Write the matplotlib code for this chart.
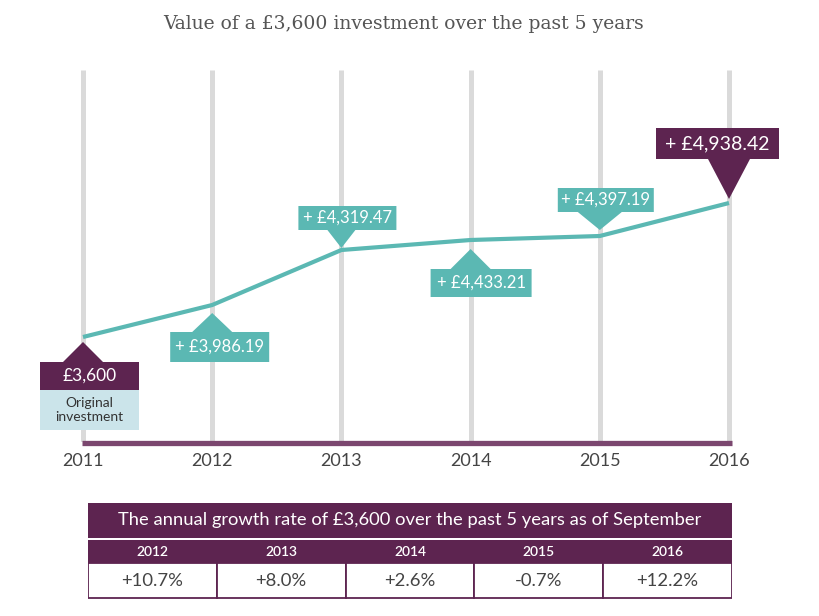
"""Value of a £3,600 investment over the past 5 years."""

import matplotlib
matplotlib.use("Agg")
import matplotlib.pyplot as plt
import matplotlib.transforms as mtransforms
from matplotlib.patches import Polygon, Rectangle

plt.rcParams["font.family"] = ["Lato", "DejaVu Sans"]

# --- data -------------------------------------------------------------
years = [2011, 2012, 2013, 2014, 2015, 2016]
# height of the drawn line (in £)
line_values = [3600, 3920, 4470, 4570, 4610, 4940]
labels = ["£3,600", "+ £3,986.19", "+ £4,319.47", "+ £4,433.21",
          "+ £4,397.19", "+ £4,938.42"]
table_years = ["2012", "2013", "2014", "2015", "2016"]
growth = ["+10.7%", "+8.0%", "+2.6%", "-0.7%", "+12.2%"]

title = "Value of a £3,600 investment over the past 5 years"
table_title = "The annual growth rate of £3,600 over the past 5 years as of September"

# --- colours ----------------------------------------------------------
TEAL = "#5bb8b3"
PURPLE = "#5d2450"
BASE = "#7b476f"
BAR = "#dadada"
LIGHT = "#cbe4ea"
TEXT = "#444444"

W, H = 820, 616
fig = plt.figure(figsize=(W / 100, H / 100), dpi=100)
fig.patch.set_facecolor("white")


def px_axes(x0, y0, x1, y1):
    """axes from image pixel box (y downward)."""
    return fig.add_axes([x0 / W, 1 - y1 / H, (x1 - x0) / W, (y1 - y0) / H])


fig.text(404 / W, 1 - 24 / H, title, ha="center", va="center",
         family="DejaVu Serif", fontsize=13.5, color="#555555")

# --- main chart -------------------------------------------------------
ax = px_axes(0, 70, W, 442)
ax.set_xlim(2011 - 83 / 129.2, 2011 + (W - 83) / 129.2)
ax.set_ylim(2550, 6270)
for s in ax.spines.values():
    s.set_visible(False)
ax.set_yticks([])
ax.set_xticks(years)
ax.set_xticklabels([str(y) for y in years], fontsize=13, color=TEXT)
ax.tick_params(axis="x", length=0, pad=8)
ax.patch.set_alpha(0)

ax.vlines(years, 2550, 6270, color=BAR, linewidth=3.6, zorder=1)
ax.hlines(2545, years[0] - 0.01, years[-1] + 0.025, color=BASE, linewidth=3.8,
          zorder=2, clip_on=False)
ax.plot(years, line_values, color=TEAL, linewidth=3, zorder=3,
        solid_capstyle="butt")

# callout shapes in pixels relative to the point: box (x0, x1, y0, y1), tip dy, base dy, half width
callouts = [
    (PURPLE, (-43, 56, -25, -53), -5, -25, 20, 12.5),
    (TEAL, (-42, 57, -27, -57), -8, -27, 20, 12),
    (TEAL, (-43, 55, 20, 44), 2, 20, 14, 12),
    (TEAL, (-40, 61, -29, -57), -9, -29, 20, 12),
    (TEAL, (-42, 54, 24, 48), 6, 24, 22, 12),
    (PURPLE, (-73, 50, 44, 75), 4, 44, 21, 14),
]

for x, y, lab, (col, box, tip, base, half, fs) in zip(years, line_values, labels, callouts):
    trans = fig.dpi_scale_trans + mtransforms.ScaledTranslation(x, y, ax.transData)
    bx0, bx1, by0, by1 = box
    verts = [(bx0, base), (-half, base), (0, tip), (half, base), (bx1, base),
             (bx1, by1), (bx0, by1)]
    verts = [(vx / 100, vy / 100) for vx, vy in verts]
    ax.add_patch(Polygon(verts, closed=True, facecolor=col, edgecolor="none",
                         transform=trans, zorder=5, clip_on=False))
    ax.text((bx0 + bx1) / 200, (by0 + by1) / 200, lab, transform=trans,
            ha="center", va="center", color="white", fontsize=fs, zorder=6)

# "Original investment" panel under the first callout
trans0 = fig.dpi_scale_trans + mtransforms.ScaledTranslation(years[0], line_values[0], ax.transData)
ax.add_patch(Rectangle((-0.43, -0.93), 0.99, 0.40, facecolor=LIGHT, edgecolor="none",
                       transform=trans0, zorder=5, clip_on=False))
ax.text(0.065, -0.73, "Original\ninvestment", transform=trans0, ha="center", va="center",
        fontsize=10, color="#333333", linespacing=1.15, zorder=6)

# --- growth table -----------------------------------------------------
tx = px_axes(88, 503, 732, 599)
tx.set_xlim(0, len(table_years))
tx.set_ylim(0, 96)
tx.axis("off")

tx.add_patch(Rectangle((0, 61.5), 5, 34.5, facecolor=PURPLE, edgecolor="none"))
tx.text(2.5, 78.5, table_title, ha="center", va="center", color="white",
        fontsize=13.2)
tx.add_patch(Rectangle((0, 36), 5, 23.5, facecolor=PURPLE, edgecolor="none"))
for i, (yr, g) in enumerate(zip(table_years, growth)):
    tx.text(i + 0.5, 47.5, yr, ha="center", va="center", color="white",
            fontsize=10, fontweight="semibold")
    tx.add_patch(Rectangle((i, 0.8), 1, 35.2, facecolor="white", edgecolor=PURPLE,
                           linewidth=1.3))
    tx.text(i + 0.5, 18, g, ha="center", va="center", color=TEXT, fontsize=13.3)

fig.savefig("out.png", dpi=100)
